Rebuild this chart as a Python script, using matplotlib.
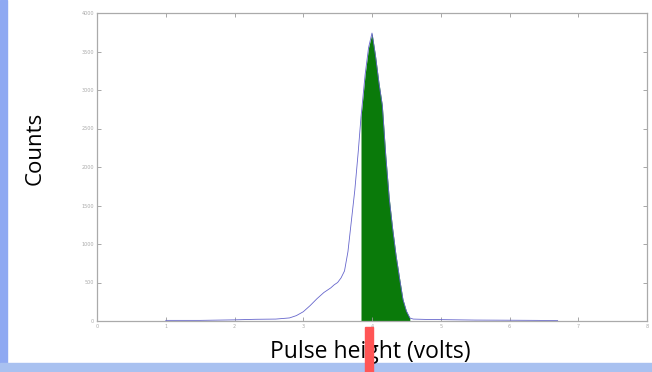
import matplotlib.pyplot as plt
from matplotlib.patches import Rectangle

# pulse height spectrum
volts = [1.0, 1.5, 2.0, 2.3, 2.6, 2.8, 2.9, 3.0, 3.1, 3.2, 3.3, 3.4, 3.45, 3.5, 3.55,
         3.6, 3.65, 3.7, 3.75, 3.8, 3.84, 3.9, 3.95, 4.0, 4.05, 4.1, 4.15,
         4.2, 4.25, 4.3, 4.35, 4.4, 4.45, 4.5, 4.55, 4.6, 4.8, 5.0, 5.5,
         6.0, 6.4, 6.7]
counts = [8, 8, 15, 22, 25, 40, 70, 120, 200, 290, 370, 430, 470, 500, 560,
          650, 900, 1300, 1700, 2200, 2650, 3200, 3550, 3740, 3450, 3100,
          2800, 2150, 1600, 1200, 850, 560, 280, 130, 40, 25, 20, 18, 12,
          10, 8, 5]

# window that is shaded green
win_lo = 3.84
win_hi = 4.55

x_ticks = [0, 1, 2, 3, 4, 5, 6, 7, 8]
y_ticks = [0, 500, 1000, 1500, 2000, 2500, 3000, 3500, 4000]

fig = plt.figure(figsize=(6.52, 3.72), dpi=100)
fig.patch.set_facecolor("white")

# slide decoration: blue strips on the left and bottom
fig.patches.append(Rectangle((0, 0), 7 / 652, 1, transform=fig.transFigure,
                             color="#8fa9f2", zorder=0))
fig.patches.append(Rectangle((0, 0), 1, 9 / 372, transform=fig.transFigure,
                             color="#a9c1f0", zorder=0))

ax = fig.add_axes([97 / 652, 51 / 372, 550 / 652, 308 / 372])
ax.plot(volts, counts, color="#6666cc", lw=0.6)
ax.fill_between(volts, counts, 0,
                where=[win_lo <= v <= win_hi for v in volts],
                color="#0a7a0a", lw=0, interpolate=False)

ax.set_xlim(0, 8)
ax.set_ylim(0, 4000)
ax.set_xticks(x_ticks)
ax.set_yticks(y_ticks)
ax.tick_params(direction="in", length=3, width=0.6, colors="#999999",
               labelsize=3.5, labelcolor="#aaaaaa", top=True, right=True, pad=2)
for s in ax.spines.values():
    s.set_color("#aaaaaa")
    s.set_linewidth(0.9)

fig.text(35 / 652, 1 - 148 / 372, "Counts", rotation=90, ha="center",
         va="center", fontsize=16, family="Open Sans", color="black")
fig.text(370 / 652, 1 - 352 / 372, "Pulse height (volts)", ha="center",
         va="center", fontsize=16.5, family="Open Sans", color="black")

# red marker under the peak
fig.patches.append(Rectangle((365 / 652, 0), 8 / 652, 45 / 372,
                             transform=fig.transFigure, color="#ff5555",
                             zorder=5))

fig.savefig("out.png", dpi=100)
